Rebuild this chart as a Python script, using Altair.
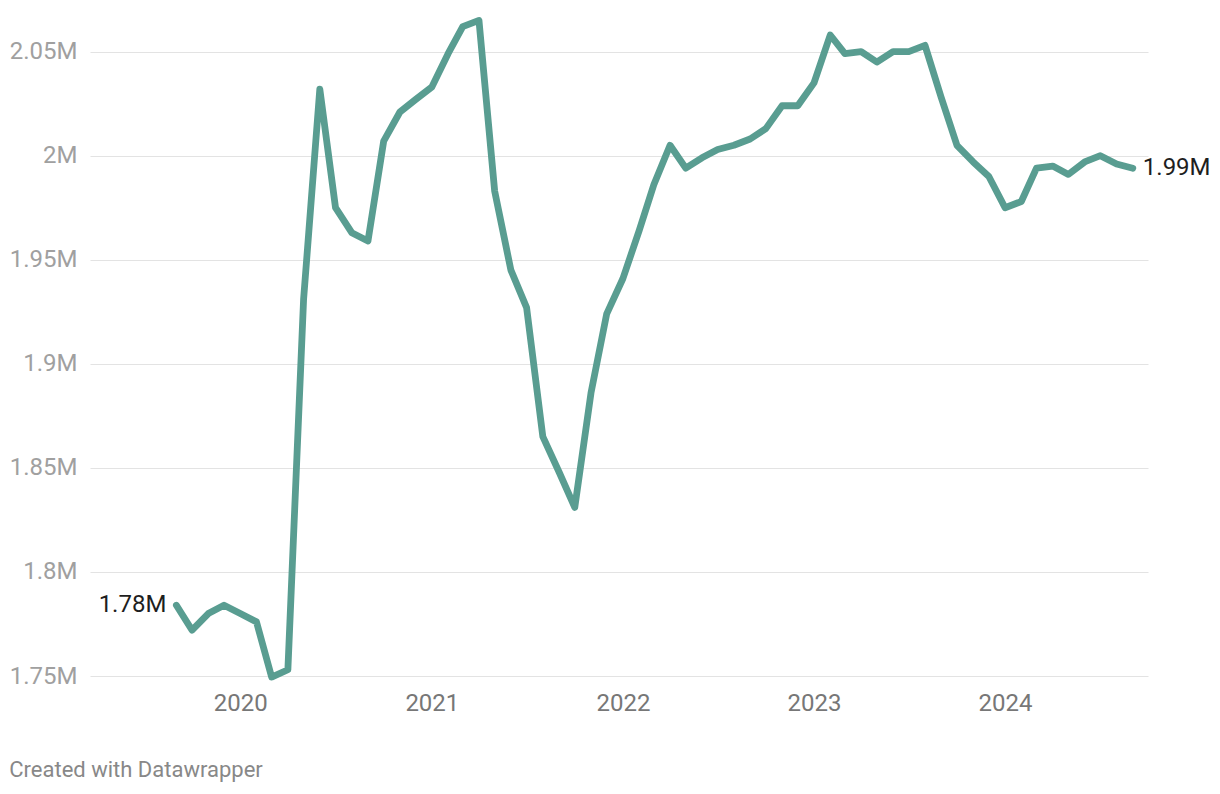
import altair as alt
import pandas as pd

# Monthly values, Sep 2019 .. Sep 2024 (millions)
months = pd.date_range("2019-09-01", "2024-09-01", freq="MS").strftime("%Y-%m-%d").tolist()
values_m = [
    1.784, 1.772, 1.780, 1.784, 1.780, 1.776, 1.7495, 1.753,   # 2019-09 .. 2020-04
    1.931, 2.032, 1.975, 1.963, 1.959, 2.007, 2.021, 2.027,     # 2020-05 .. 2020-12
    2.033, 2.049, 2.062, 2.065, 1.983, 1.945, 1.927, 1.865,     # 2021-01 .. 2021-08
    1.848, 1.831, 1.886, 1.924,                                 # 2021-09 .. 2021-12
    1.941, 1.964, 1.986, 2.005, 1.994, 1.999, 2.003, 2.005,     # 2022-01 .. 2022-08
    2.008, 2.013, 2.024, 2.024,                                 # 2022-09 .. 2022-12
    2.035, 2.058, 2.049, 2.050, 2.045, 2.050, 2.050, 2.053,     # 2023-01 .. 2023-08
    2.028, 2.005, 1.997, 1.990,                                 # 2023-09 .. 2023-12
    1.975, 1.978, 1.994, 1.995, 1.991, 1.997, 2.000, 1.996,     # 2024-01 .. 2024-08
    1.994,                                                      # 2024-09
]
y_ticks = [1750000, 1800000, 1850000, 1900000, 1950000, 2000000, 2050000]
x_years = [2020, 2021, 2022, 2023, 2024]
footer = "Created with Datawrapper"

df = pd.DataFrame({"date": months, "value": [v * 1e6 for v in values_m]})
first = df.iloc[[0]].copy()
last = df.iloc[[-1]].copy()
for d in (first, last):
    d["label"] = [f"{v/1e6:.2f}M" for v in d["value"]]

LINE = "#599d91"

x_enc = alt.X(
    "date:T",
    title=None,
    scale=alt.Scale(
        domain=[alt.DateTime(year=2019, month=3, date=20), alt.DateTime(year=2024, month=9, date=30)],
        nice=False,
    ),
    axis=alt.Axis(
        values=[alt.DateTime(year=y, month=1, date=1) for y in x_years],
        format="%Y",
        grid=False,
        domain=False,
        ticks=False,
        labelPadding=15,
        labelFontSize=24,
        labelFont="Roboto",
        labelColor="#777777",
    ),
)
y_enc = alt.Y(
    "value:Q",
    title=None,
    scale=alt.Scale(domain=[1750000, 2070000], nice=False, zero=False),
    axis=alt.Axis(
        values=y_ticks,
        labelExpr="format(datum.value/1e6, '.3~f') + 'M'",
        grid=True,
        gridColor="#e3e3e3",
        gridWidth=1,
        domain=False,
        ticks=False,
        labelPadding=13,
        labelFontSize=24,
        labelFont="Roboto",
        labelColor="#a0a0a0",
    ),
)

line = alt.Chart(df).mark_line(
    color=LINE, strokeWidth=6.8, strokeCap="round", strokeJoin="round"
).encode(x=x_enc, y=y_enc)

lab_first = alt.Chart(first).mark_text(
    align="right", baseline="middle", dx=-10, fontSize=24, font="Roboto", color="#1e1e1e"
).encode(x="date:T", y="value:Q", text="label:N")

lab_last = alt.Chart(last).mark_text(
    align="left", baseline="middle", dx=10, fontSize=24, font="Roboto", color="#1e1e1e"
).encode(x="date:T", y="value:Q", text="label:N")

chart = alt.layer(line, lab_first, lab_last).properties(
    width=1058,
    height=666,
    padding={"left": 82, "right": 64, "top": 2, "bottom": 110},
    autosize=alt.AutoSizeParams(type="none"),
    title=alt.TitleParams(
        text=footer,
        orient="bottom",
        anchor="start",
        frame="bounds",
        fontSize=22,
        font="Roboto",
        fontWeight="normal",
        color="#888888",
        offset=45,
    ),
).configure(background="white").configure_view(strokeWidth=0, stroke="transparent")

chart.save("out.html", embed_options={"renderer": "svg", "actions": False})
